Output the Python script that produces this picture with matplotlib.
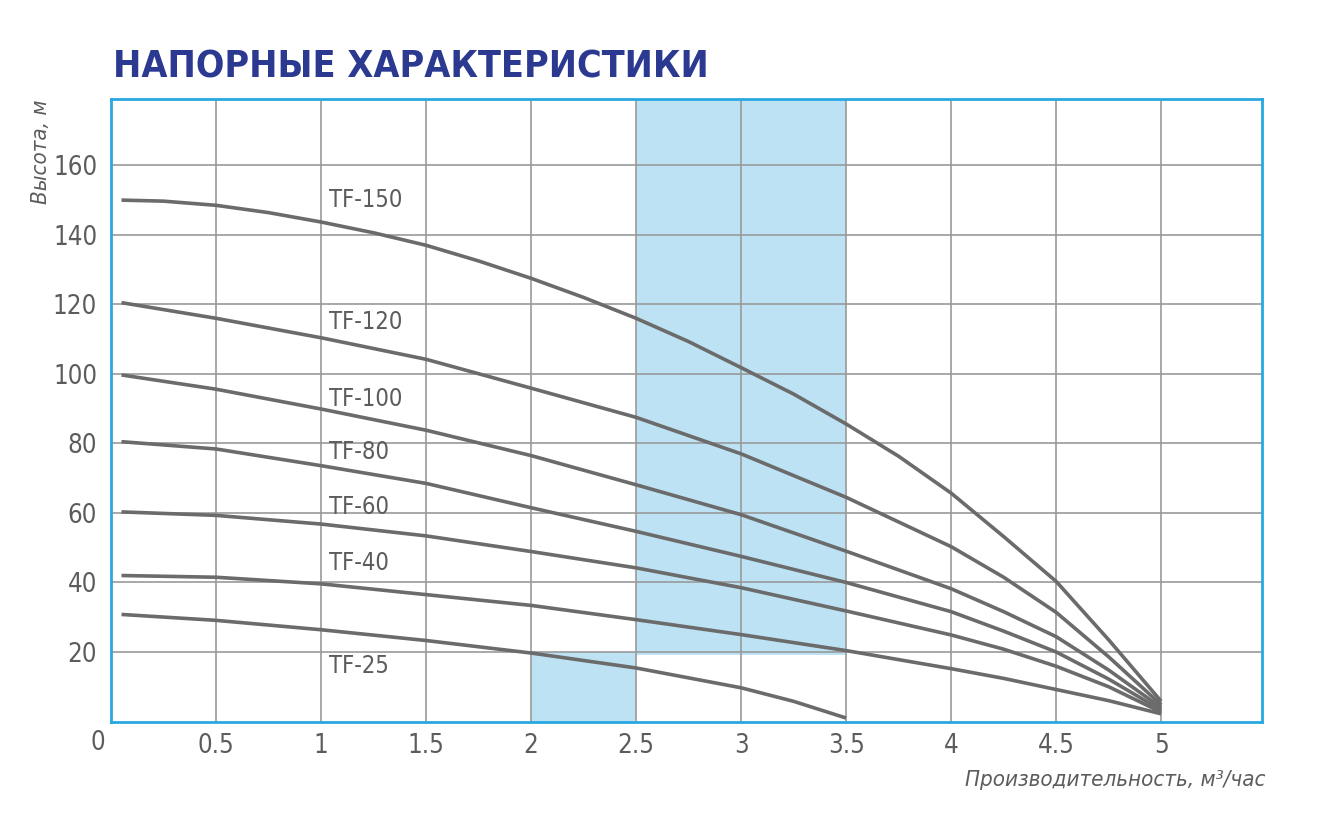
import matplotlib
matplotlib.use("Agg")
import matplotlib.pyplot as plt
from matplotlib.patches import Rectangle

# данные (читаются с графика)
flow150 = [0.05, 0.25, 0.5, 0.75, 1, 1.25, 1.5, 1.75, 2, 2.25, 2.5, 2.75,
           3, 3.25, 3.5, 3.75, 4, 4.25, 4.5, 4.75, 5]
tf150 = [150, 149.7, 148.5, 146.4, 143.7, 140.6, 137, 132.5, 127.5, 122, 116, 109.3,
         101.8, 94.2, 85.6, 76.3, 65.7, 53.2, 40.3, 23.5, 5.8]

flow = [0.05, 0.5, 1, 1.5, 2, 2.5, 3, 3.5, 4, 4.25, 4.5, 4.75, 5]
tf120 = [120.5, 116, 110.4, 104.2, 95.9, 87.5, 77.0, 64.5, 50.3, 41.5, 31.4, 18.6, 4.8]
tf100 = [99.7, 95.6, 89.9, 83.8, 76.5, 68.1, 59.5, 49.0, 38.2, 31.6, 24.4, 14.8, 4.0]
tf80 = [80.5, 78.4, 73.6, 68.5, 61.5, 54.7, 47.5, 40.0, 31.6, 26.0, 20.0, 12.2, 3.3]
tf60 = [60.3, 59.3, 56.8, 53.4, 48.9, 44.2, 38.5, 31.8, 24.9, 20.8, 15.9, 10.0, 2.7]
tf40 = [42.0, 41.5, 39.6, 36.5, 33.4, 29.3, 25.0, 20.4, 15.2, 12.4, 9.2, 6.0, 2.2]

flow25 = [0.05, 0.5, 1, 1.5, 2, 2.5, 3, 3.25, 3.5]
tf25 = [30.8, 29.1, 26.4, 23.3, 19.7, 15.4, 9.7, 5.8, 1.0]

names = ['TF-150', 'TF-120', 'TF-100', 'TF-80', 'TF-60', 'TF-40', 'TF-25']
label_y = [150, 115, 92.8, 77.6, 61.8, 45.7, 16.1]

xticks = [0.5, 1, 1.5, 2, 2.5, 3, 3.5, 4, 4.5, 5]
xticklabels = ['0.5', '1', '1.5', '2', '2.5', '3', '3.5', '4', '4.5', '5']
yticks = [20, 40, 60, 80, 100, 120, 140, 160]

plt.rcParams['font.family'] = ['DejaVu Sans']
plt.rcParams['font.stretch'] = 'condensed'

grey = '#6b6b6b'
txt = '#5c5c5c'
blue = '#29a8e0'
shade = '#bde2f4'

fig = plt.figure(figsize=(13.26, 8.18), dpi=100)
ax = fig.add_axes([111/1326, 1-721.5/818, (1262-111)/1326, (721.5-99.3)/818])
ax.set_xlim(0, 5.48)
ax.set_ylim(0, 179)

# зоны
ax.add_patch(Rectangle((2.5, 19), 1.0, 179 - 19, facecolor=shade, edgecolor='none', zorder=0))
ax.add_patch(Rectangle((2.0, 0), 0.5, 20, facecolor=shade, edgecolor='none', zorder=0))

ax.set_xticks(xticks)
ax.set_xticklabels(xticklabels)
ax.set_yticks(yticks)
ax.grid(True, color='#9a9a9a', linewidth=1.2, zorder=1)
ax.set_axisbelow(False)
ax.tick_params(length=0, labelsize=18.5, labelcolor=txt, pad=8)
ax.tick_params(axis='y', pad=10)
for s in ax.spines.values():
    s.set_color(blue)
    s.set_linewidth(2)
    s.set_zorder(5)

for fx, ys in [(flow150, tf150), (flow, tf120), (flow, tf100), (flow, tf80),
               (flow, tf60), (flow, tf40), (flow25, tf25)]:
    ax.plot(fx, ys, color=grey, linewidth=2.6, solid_capstyle='butt',
            solid_joinstyle='round', zorder=3)

for n, yy in zip(names, label_y):
    ax.text(1.04, yy, n, fontsize=17, color=txt, va='center', ha='left', zorder=4)

# "0" в углу
ax.annotate('0', xy=(0, 0), xycoords='data', xytext=(-13, -8), textcoords='offset pixels',
            ha='center', va='top', fontsize=18.5, color=txt)

ax.set_ylabel('Высота, м', fontsize=16, color=txt, style='italic', loc='top')
ax.yaxis.set_label_coords(-0.052, 1.0)
ax.set_xlabel('Производительность, м³/час', fontsize=16, color=txt, style='italic',
              loc='right')
ax.xaxis.set_label_coords(1.003, -0.078)

fig.text(113/1326, 1-77/818, 'НАПОРНЫЕ ХАРАКТЕРИСТИКИ', fontsize=27, fontweight='bold',
         color='#2b3990', ha='left', va='baseline')

fig.savefig('out.png', dpi=100)
